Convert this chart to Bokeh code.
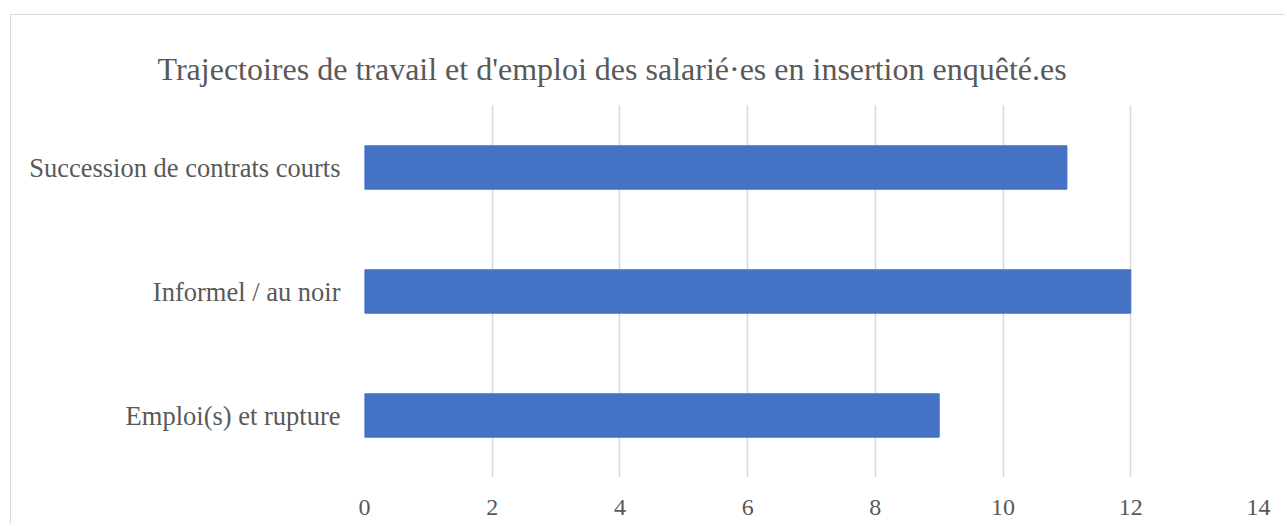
from bokeh.plotting import figure
from bokeh.models import FixedTicker
from bokeh.embed import file_html
from bokeh.resources import INLINE

categories = ["Emploi(s) et rupture", "Informel / au noir", "Succession de contrats courts"]
values = [9, 12, 11]
x_ticks = [0, 2, 4, 6, 8, 10, 12, 14]
title_text = "Trajectoires de travail et d'emploi des salarié·es en insertion enquêté.es"

FONT = "Liberation Serif"
GREY = "#595959"

W, H = 1274, 510
p = figure(y_range=categories, x_range=(0, 14), width=W, height=H,
           output_backend="svg", toolbar_location=None, title=title_text,
           min_border_left=353, min_border_right=27, min_border_top=90, min_border_bottom=48)
p.styles = {"margin-left": "10px", "margin-top": "14px",
            "border-left": "1px solid #d9d9d9", "border-top": "1px solid #d9d9d9"}

p.hbar(y=categories, right=values, height=0.35, color="#4472c4")

p.title.align = "left"
p.title.offset = -207
p.title.standoff = 38
p.title.text_font = FONT
p.title.text_font_size = "32px"
p.title.text_font_style = "normal"
p.title.text_color = GREY

p.outline_line_color = None
p.ygrid.grid_line_color = None
p.xgrid.grid_line_color = "#d9d9d9"
p.xgrid.grid_line_width = 1.5
p.xaxis.ticker = FixedTicker(ticks=x_ticks)
for ax in (p.xaxis[0], p.yaxis[0]):
    ax.axis_line_color = None
    ax.major_tick_line_color = None
    ax.minor_tick_line_color = None
    ax.major_label_text_font = FONT
    ax.major_label_text_color = GREY
p.xaxis.major_label_text_font_size = "24px"
p.yaxis.major_label_text_font_size = "26.5px"
p.xaxis.major_label_standoff = 16
p.yaxis.major_label_standoff = 18

open("out.html", "w").write(file_html(p, INLINE))
